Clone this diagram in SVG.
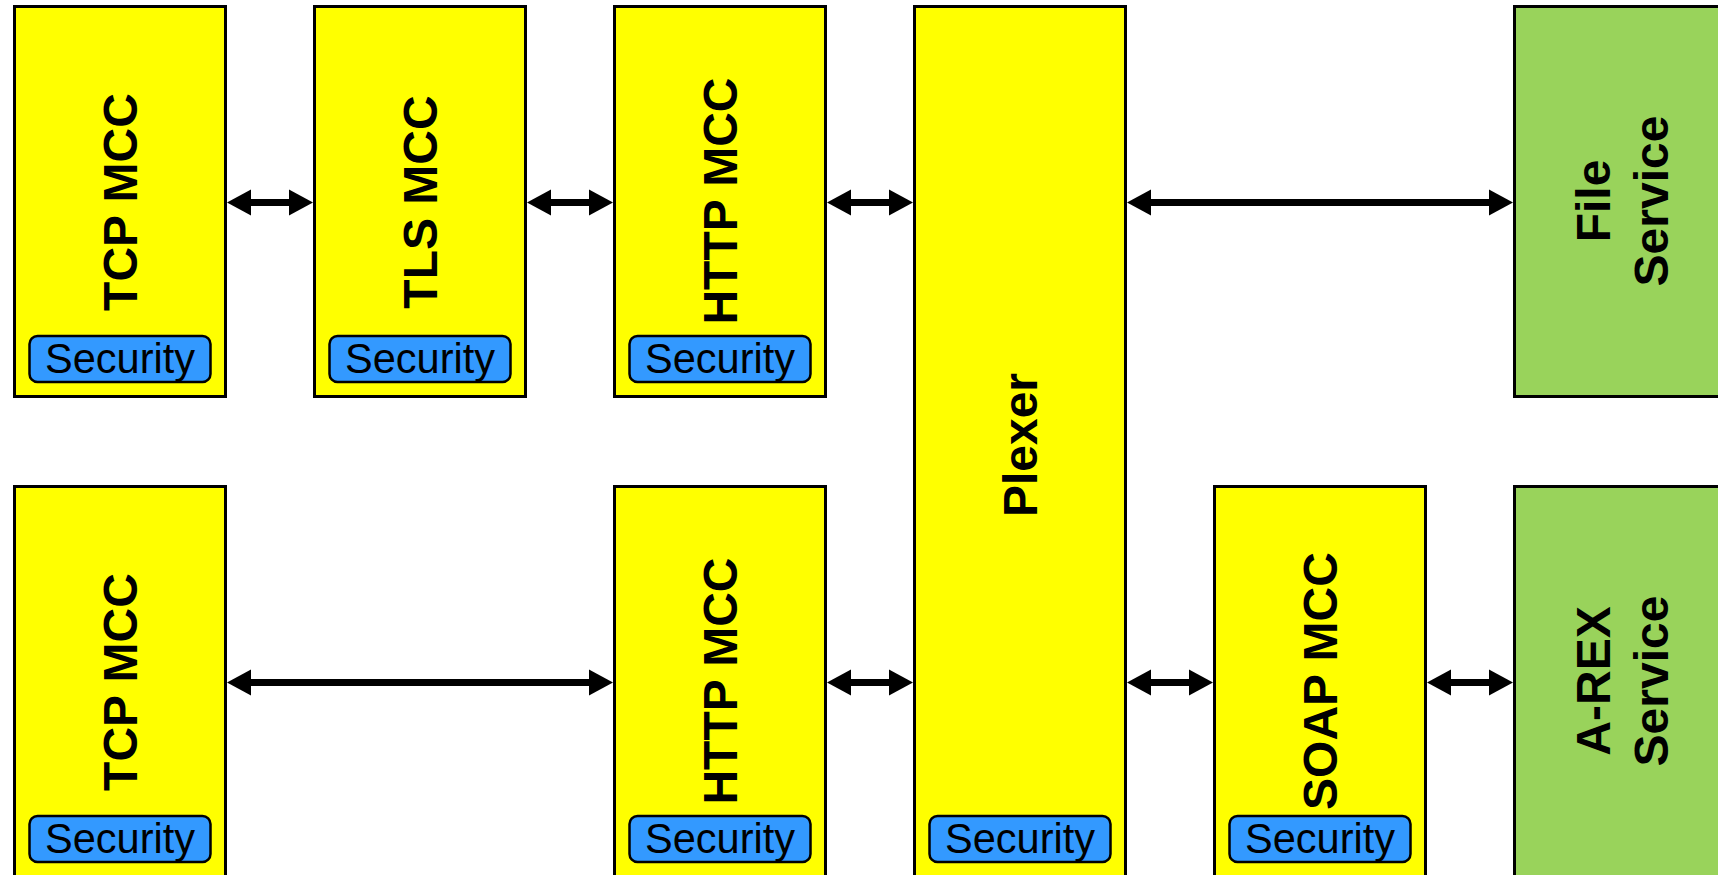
<svg xmlns="http://www.w3.org/2000/svg" width="1718" height="875" viewBox="0 0 1718 875">
  <defs>
    <marker id="ah" markerUnits="userSpaceOnUse" markerWidth="24" markerHeight="26" refX="3" refY="13" orient="auto-start-reverse" overflow="visible">
      <path d="M0,0 L24,13 L0,26 z" fill="#000"/>
    </marker>
    <style>
      .mcc { fill: #ffff00; stroke: #000; stroke-width: 3; }
      .svc { fill: #99d35b; stroke: #000; stroke-width: 3; }
      .sec { fill: #3399ff; stroke: #000; stroke-width: 2.5; }
      .lbl { font-family: "Liberation Sans", Arial, sans-serif; font-weight: bold; font-size: 48px; fill: #000; text-anchor: middle; }
      .st { font-family: "Liberation Sans", Arial, sans-serif; font-size: 43px; fill: #000; text-anchor: middle; }
      .conn line { stroke: #000; stroke-width: 7; marker-start: url(#ah); marker-end: url(#ah); }
    </style>
  </defs>
  <rect width="1718" height="875" fill="#fff"/>

  <g id="tcp1">
    <rect class="mcc" x="14.5" y="6.5" width="211" height="390"/>
    <text class="lbl" x="137" y="202" transform="rotate(-90 137 202)">TCP MCC</text>
    <rect class="sec" x="29.5" y="336" width="181" height="46" rx="8"/>
    <text class="st" x="120" y="373" textLength="150" lengthAdjust="spacingAndGlyphs">Security</text>
  </g>
  <g id="tls1">
    <rect class="mcc" x="314.5" y="6.5" width="211" height="390"/>
    <text class="lbl" x="437" y="202" transform="rotate(-90 437 202)">TLS MCC</text>
    <rect class="sec" x="329.5" y="336" width="181" height="46" rx="8"/>
    <text class="st" x="420" y="373" textLength="150" lengthAdjust="spacingAndGlyphs">Security</text>
  </g>
  <g id="http1">
    <rect class="mcc" x="614.5" y="6.5" width="211" height="390"/>
    <text class="lbl" x="737" y="201" transform="rotate(-90 737 201)">HTTP MCC</text>
    <rect class="sec" x="629.5" y="336" width="181" height="46" rx="8"/>
    <text class="st" x="720" y="373" textLength="150" lengthAdjust="spacingAndGlyphs">Security</text>
  </g>
  <g id="plexer">
    <rect class="mcc" x="914.5" y="6.5" width="211" height="880"/>
    <text class="lbl" x="1037" y="445" transform="rotate(-90 1037 445)">Plexer</text>
    <rect class="sec" x="929.5" y="816" width="181" height="46" rx="8"/>
    <text class="st" x="1020" y="853" textLength="150" lengthAdjust="spacingAndGlyphs">Security</text>
  </g>
  <g id="fileservice">
    <rect class="svc" x="1514.5" y="6.5" width="230" height="390"/>
    <text class="lbl" transform="rotate(-90 1610 201)" x="1610" y="201">File</text>
    <text class="lbl" transform="rotate(-90 1668 201)" x="1668" y="201">Service</text>
  </g>

  <g id="tcp2">
    <rect class="mcc" x="14.5" y="486.5" width="211" height="400"/>
    <text class="lbl" x="137" y="682" transform="rotate(-90 137 682)">TCP MCC</text>
    <rect class="sec" x="29.5" y="816" width="181" height="46" rx="8"/>
    <text class="st" x="120" y="853" textLength="150" lengthAdjust="spacingAndGlyphs">Security</text>
  </g>
  <g id="http2">
    <rect class="mcc" x="614.5" y="486.5" width="211" height="400"/>
    <text class="lbl" x="737" y="681" transform="rotate(-90 737 681)">HTTP MCC</text>
    <rect class="sec" x="629.5" y="816" width="181" height="46" rx="8"/>
    <text class="st" x="720" y="853" textLength="150" lengthAdjust="spacingAndGlyphs">Security</text>
  </g>
  <g id="soap">
    <rect class="mcc" x="1214.5" y="486.5" width="211" height="400"/>
    <text class="lbl" x="1337" y="681" transform="rotate(-90 1337 681)">SOAP MCC</text>
    <rect class="sec" x="1229.5" y="816" width="181" height="46" rx="8"/>
    <text class="st" x="1320" y="853" textLength="150" lengthAdjust="spacingAndGlyphs">Security</text>
  </g>
  <g id="arex">
    <rect class="svc" x="1514.5" y="486.5" width="230" height="400"/>
    <text class="lbl" transform="rotate(-90 1610 681)" x="1610" y="681">A-REX</text>
    <text class="lbl" transform="rotate(-90 1668 681)" x="1668" y="681">Service</text>
  </g>

  <g id="connectors" class="conn">
    <line x1="248" y1="202.5" x2="292" y2="202.5"/>
    <line x1="548" y1="202.5" x2="592" y2="202.5"/>
    <line x1="848" y1="202.5" x2="892" y2="202.5"/>
    <line x1="1148" y1="202.5" x2="1492" y2="202.5"/>
    <line x1="248" y1="682.5" x2="592" y2="682.5"/>
    <line x1="848" y1="682.5" x2="892" y2="682.5"/>
    <line x1="1148" y1="682.5" x2="1192" y2="682.5"/>
    <line x1="1448" y1="682.5" x2="1492" y2="682.5"/>
  </g>
</svg>
